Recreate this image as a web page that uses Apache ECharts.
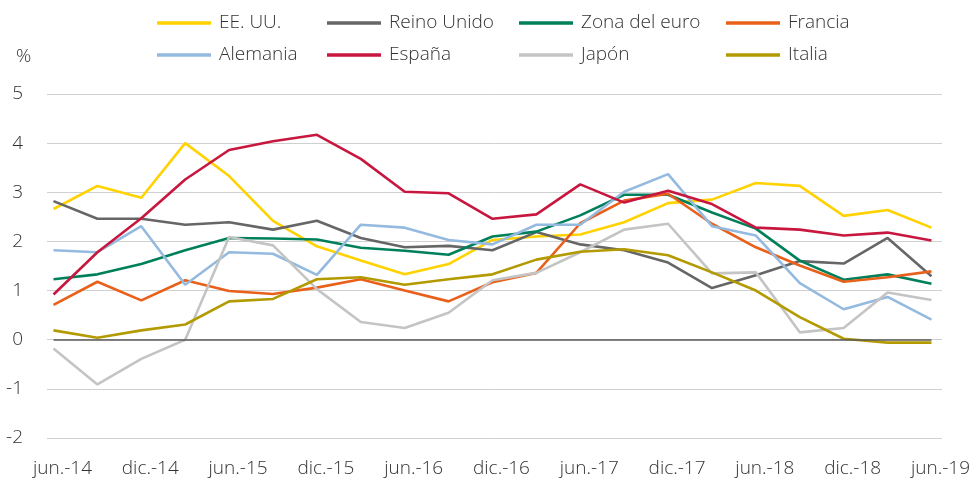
<!DOCTYPE html>
<html>
<head>
<meta charset="utf-8">
<script src="https://cdn.jsdelivr.net/npm/echarts@6/dist/echarts.min.js"></script>
<style>
  html, body { margin: 0; padding: 0; background: #fff; }
  #chart { width: 973px; height: 481px; }
</style>
</head>
<body>
<div id="chart"></div>
<script>
var categories = ['jun.-14', 'sep.-14', 'dic.-14', 'mar.-15', 'jun.-15', 'sep.-15', 'dic.-15',
    'mar.-16', 'jun.-16', 'sep.-16', 'dic.-16', 'mar.-17', 'jun.-17', 'sep.-17', 'dic.-17',
    'mar.-18', 'jun.-18', 'sep.-18', 'dic.-18', 'mar.-19', 'jun.-19'];

var eeuu = [2.66, 3.13, 2.89, 4.00, 3.33, 2.42, 1.90, 1.61, 1.33, 1.54, 2.03, 2.10, 2.14, 2.39, 2.78, 2.85, 3.19, 3.13, 2.52, 2.64, 2.28];
var reinoUnido = [2.82, 2.46, 2.46, 2.34, 2.39, 2.24, 2.42, 2.07, 1.88, 1.91, 1.82, 2.19, 1.94, 1.82, 1.57, 1.05, 1.31, 1.60, 1.55, 2.07, 1.29];
var zonaEuro = [1.23, 1.33, 1.54, 1.82, 2.07, 2.06, 2.04, 1.87, 1.81, 1.73, 2.10, 2.20, 2.53, 2.95, 2.95, 2.59, 2.26, 1.61, 1.22, 1.33, 1.14];
var francia = [0.71, 1.18, 0.80, 1.21, 0.99, 0.93, 1.06, 1.23, 1.00, 0.78, 1.17, 1.36, 2.37, 2.83, 2.97, 2.36, 1.88, 1.51, 1.18, 1.27, 1.39];
var alemania = [1.82, 1.78, 2.31, 1.12, 1.78, 1.75, 1.32, 2.34, 2.28, 2.03, 1.94, 2.34, 2.34, 3.01, 3.37, 2.31, 2.12, 1.15, 0.62, 0.87, 0.41];
var espana = [0.92, 1.78, 2.47, 3.26, 3.86, 4.04, 4.17, 3.68, 3.01, 2.98, 2.46, 2.55, 3.16, 2.79, 3.03, 2.76, 2.28, 2.24, 2.12, 2.18, 2.02];
var japon = [-0.18, -0.91, -0.39, 0.00, 2.09, 1.92, 1.03, 0.36, 0.24, 0.55, 1.21, 1.36, 1.78, 2.24, 2.36, 1.35, 1.37, 0.15, 0.24, 0.96, 0.81];
var italia = [0.19, 0.04, 0.19, 0.31, 0.78, 0.83, 1.23, 1.27, 1.12, 1.23, 1.33, 1.63, 1.79, 1.84, 1.72, 1.37, 1.00, 0.46, 0.02, -0.06, -0.06];

var names = ['EE. UU.', 'Reino Unido', 'Zona del euro', 'Francia', 'Alemania', 'España', 'Japón', 'Italia'];
var values = [eeuu, reinoUnido, zonaEuro, francia, alemania, espana, japon, italia];
var colors = ['#FFD200', '#666666', '#00805A', '#E9601A', '#94BADF', '#C8173F', '#C4C4C4', '#B39A00'];

var font = '"Open Sans", "Noto Sans", sans-serif';
var chart = echarts.init(document.getElementById('chart'));

// legend: two rows of four, each item placed by hand
var legendLeft = [157, 327, 519, 726];
var legends = names.map(function(n, i) {
    return {
        data: [n],
        left: legendLeft[i % 4],
        top: i < 4 ? 12 : 44,
        padding: 0,
        icon: 'rect',
        itemWidth: 54,
        itemHeight: 3.5,
        textStyle: {
            fontFamily: font,
            fontWeight: 300,
            fontSize: 19,
            lineHeight: 22,
            color: '#333',
            padding: [0, 0, 0, 3]
        }
    };
});

var series = names.map(function(n, i) {
    return {
        name: n,
        type: 'line',
        xAxisIndex: 1,
        yAxisIndex: 1,
        data: values[i],
        symbol: 'none',
        lineStyle: { color: colors[i], width: 2.6 },
        itemStyle: { color: colors[i] },
        z: 3
    };
});
// zero line
series[0].markLine = {
    silent: true,
    symbol: 'none',
    label: { show: false },
    lineStyle: { color: '#595959', width: 1.5, type: 'solid' },
    data: [{ yAxis: 0 }]
};

var option = {
    animation: false,
    title: {
        text: '%',
        left: 11,
        top: 42,
        textStyle: { fontFamily: font, fontWeight: 300, fontSize: 19, color: '#333' }
    },
    legend: legends,
    grid: [
        { left: 47, right: 31, top: 94, bottom: 43 },
        { left: 53.5, right: 39.5, top: 94, bottom: 43 }
    ],
    xAxis: [
        { type: 'category', gridIndex: 0, show: false, data: categories },
        {
            type: 'category',
            gridIndex: 1,
            data: categories,
            boundaryGap: false,
            axisLine: { show: false },
            axisTick: { show: false },
            splitLine: { show: false },
            axisLabel: {
                interval: 1,
                margin: 21,
                padding: [0, 0, 0, 18],
                fontFamily: font,
                fontWeight: 300,
                fontSize: 19,
                color: '#333'
            }
        }
    ],
    yAxis: [
        {
            type: 'value',
            gridIndex: 0,
            min: -2,
            max: 5,
            interval: 1,
            axisLine: { show: false },
            axisTick: { show: false },
            splitLine: { lineStyle: { color: '#D0D0D0', width: 1 } },
            axisLabel: {
                margin: 24,
                fontFamily: font,
                fontWeight: 300,
                fontSize: 19,
                color: '#333'
            }
        },
        {
            type: 'value',
            gridIndex: 1,
            min: -2,
            max: 5,
            interval: 1,
            show: false
        }
    ],
    series: series
};
chart.setOption(option);
</script>
</body>
</html>
